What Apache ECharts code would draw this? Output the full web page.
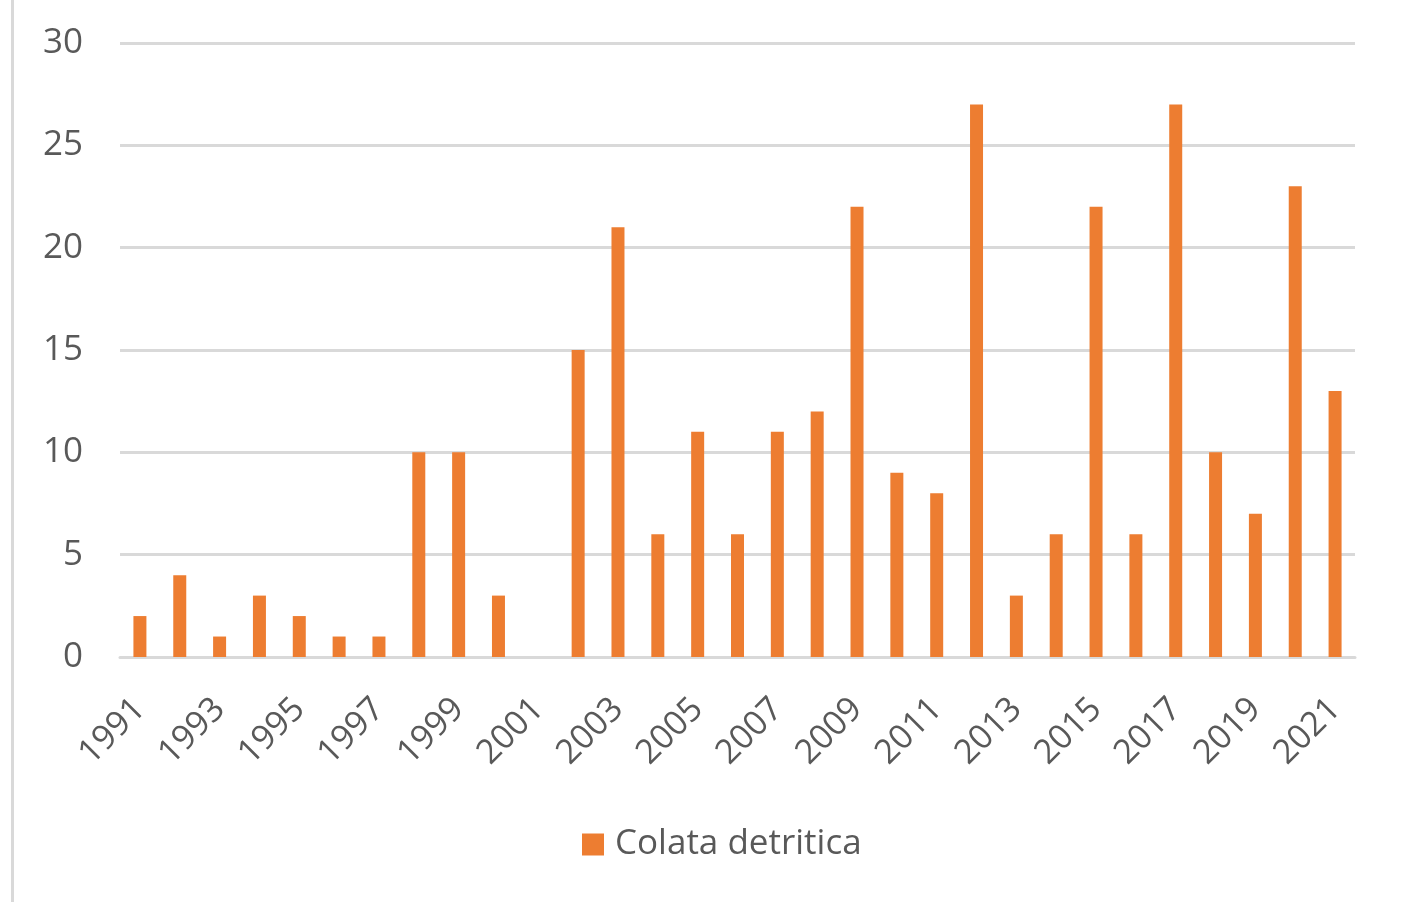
<!DOCTYPE html>
<html>
<head>
<meta charset="utf-8">
<style>
  html, body { margin: 0; padding: 0; background: #ffffff; }
  #chart { width: 1404px; height: 902px; }
</style>
<script src="https://cdn.jsdelivr.net/npm/echarts@6/dist/echarts.min.js"></script>
</head>
<body>
<div id="chart"></div>
<script>
// Anni 1991–2021 e numero di colate detritiche registrate
const years = ['1991','1992','1993','1994','1995','1996','1997','1998','1999','2000',
  '2001','2002','2003','2004','2005','2006','2007','2008','2009','2010',
  '2011','2012','2013','2014','2015','2016','2017','2018','2019','2020','2021'];
const colataDetritica = [2, 4, 1, 3, 2, 1, 1, 10, 10, 3,
  0, 15, 21, 6, 11, 6, 11, 12, 22, 9,
  8, 27, 3, 6, 22, 6, 27, 10, 7, 23, 13];
const seriesName = 'Colata detritica';

const FONT = '"Open Sans", "Noto Sans", sans-serif';
const TEXT = '#595959';
const GRID = '#D9D9D9';
const BAR = '#ED7D31';

const chart = echarts.init(document.getElementById('chart'), null, { renderer: 'canvas' });
chart.setOption({
  animation: false,
  backgroundColor: '#ffffff',
  graphic: [{
    type: 'rect',
    shape: { x: 11, y: 0, width: 3, height: 902 },
    style: { fill: GRID }
  }],
  grid: { left: 120, right: 49, top: 43, bottom: 245, containLabel: false },
  legend: {
    data: [seriesName],
    top: 827,
    left: 582,
    padding: 0,
    icon: 'rect',
    itemWidth: 22,
    itemHeight: 22,
    textStyle: { color: TEXT, fontSize: 35, fontFamily: FONT, padding: [0, 0, 0, 6] }
  },
  xAxis: {
    type: 'category',
    data: years,
    axisLine: { show: true, lineStyle: { color: GRID, width: 3 } },
    axisTick: { show: false },
    axisLabel: {
      interval: 1,
      rotate: 45,
      margin: 47,
      color: TEXT,
      fontSize: 34,
      fontFamily: FONT
    }
  },
  yAxis: {
    type: 'value',
    min: 0,
    max: 30,
    interval: 5,
    axisLine: { show: false },
    axisTick: { show: false },
    splitLine: { lineStyle: { color: GRID, width: 3 } },
    axisLabel: {
      margin: 37,
      color: TEXT,
      fontSize: 35,
      fontFamily: FONT
    }
  },
  series: [{
    name: seriesName,
    type: 'bar',
    data: colataDetritica,
    barWidth: 13,
    itemStyle: { color: BAR }
  }]
});
</script>
</body>
</html>
